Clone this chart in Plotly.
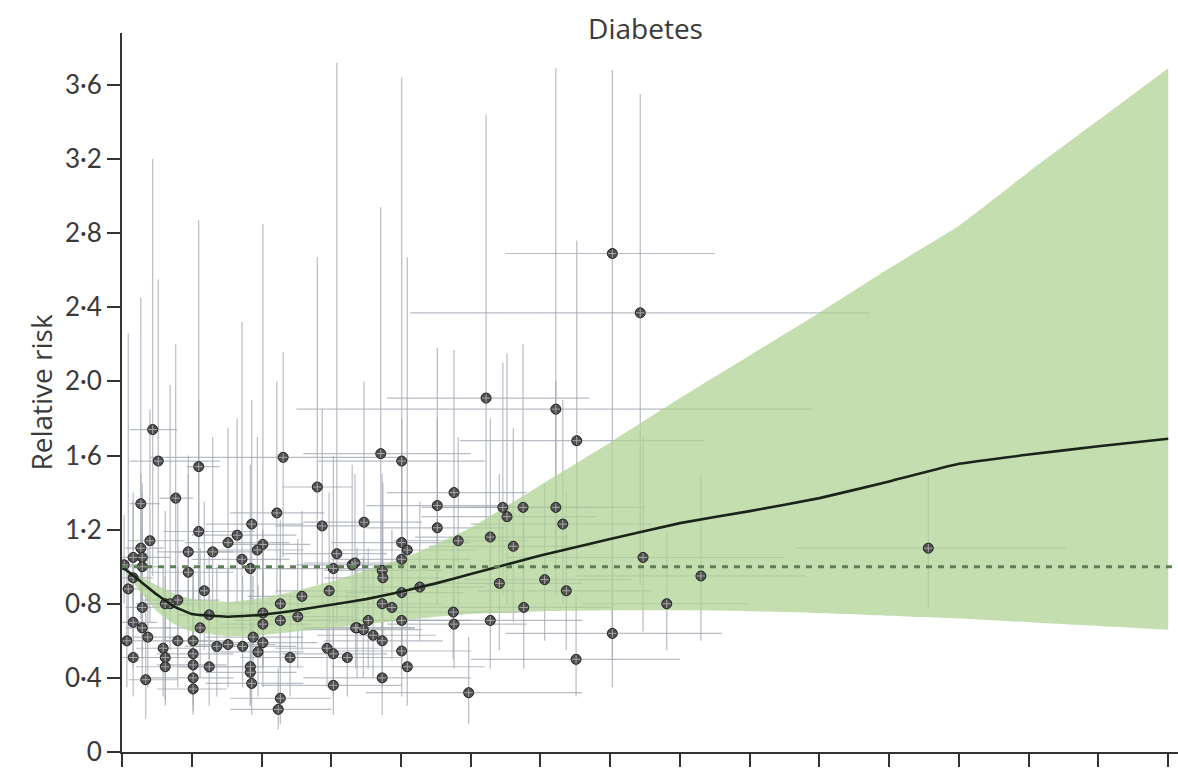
import plotly.graph_objects as go

# Individual study estimates: dose (drinks per day) with its range, relative risk with 95% CI
dose = [0.03, 0.44, 0.52, 0.27, 0.77, 1.10, 0.40, 1.10, 0.95, 1.30,
        0.27, 0.29, 0.16, 0.16, 0.29, 0.95, 1.18, 0.29, 0.62, 0.80,
        0.29, 0.37, 0.16, 0.16, 0.59, 0.62, 0.62, 0.34, 1.02, 1.02,
        1.02, 1.02, 1.02, 1.25, 0.80, 1.12, 1.52, 1.36, 1.52, 1.65,
        1.25, 0.07, 0.09, 0.69, 2.31, 2.80, 2.22, 2.87, 1.86, 2.02,
        1.94, 1.72, 3.08, 3.03, 3.30, 1.84, 2.97, 2.58, 2.27, 2.02,
        2.02, 2.27, 2.52, 3.37, 1.88, 2.02, 1.73, 1.95, 2.41, 2.94,
        3.03, 3.23, 1.84, 1.84, 1.86, 3.03, 2.27, 2.24, 3.71, 4.01,
        4.76, 4.52, 4.52, 3.47, 4.82, 4.01, 4.09, 4.01, 3.34, 3.73,
        3.74, 4.01, 4.27, 3.73, 3.87, 4.01, 4.75, 4.76, 3.53, 3.35,
        3.46, 3.60, 3.73, 4.01, 4.09, 3.73, 4.97, 5.22, 6.22, 6.52,
        7.03, 7.43, 5.46, 5.52, 5.75, 6.22, 6.32, 5.28, 5.61, 7.47,
        5.41, 6.06, 6.37, 5.76, 5.28, 7.81, 7.03, 6.51, 8.30, 11.56]

dose_lo = [0.00, 0.11, 0.11, 0.11, 0.54, 0.93, 0.10, 0.60, 0.50, 0.80,
           0.05, 0.05, 0.00, 0.00, 0.05, 0.40, 0.60, 0.05, 0.20, 0.30,
           0.05, 0.10, 0.00, 0.00, 0.20, 0.20, 0.20, 0.10, 0.60, 0.50,
           0.50, 0.40, 0.50, 0.80, 0.30, 0.60, 1.00, 0.90, 0.90, 1.00,
           0.80, 0.00, 0.00, 0.30, 0.40, 2.30, 1.55, 2.20, 1.20, 1.50,
           1.30, 1.00, 2.30, 2.20, 2.50, 1.20, 2.20, 1.80, 1.50, 1.40,
           1.40, 1.60, 1.80, 2.60, 1.20, 1.30, 1.00, 1.30, 1.70, 2.20,
           2.30, 2.50, 1.00, 1.20, 1.20, 2.00, 1.55, 1.55, 2.60, 2.80,
           3.80, 3.50, 3.50, 2.60, 3.90, 3.00, 3.10, 3.00, 2.60, 2.90,
           2.90, 3.20, 3.40, 2.90, 3.00, 3.10, 3.90, 3.80, 2.70, 2.60,
           2.60, 2.80, 2.90, 3.00, 3.00, 2.60, 3.50, 3.80, 2.50, 4.85,
           5.50, 4.13, 4.30, 4.30, 4.60, 5.00, 5.00, 4.20, 4.40, 5.50,
           4.30, 4.90, 5.10, 4.60, 4.00, 6.60, 5.50, 5.00, 6.50, 9.66]

dose_hi = [0.30, 0.79, 1.40, 0.54, 1.02, 1.40, 0.90, 1.90, 1.60, 2.00,
           0.60, 0.70, 0.40, 0.45, 0.60, 1.60, 1.90, 0.70, 1.10, 1.40,
           0.70, 0.80, 0.50, 0.50, 1.00, 1.10, 1.10, 0.80, 1.60, 1.60,
           1.50, 1.60, 1.50, 2.00, 1.30, 1.80, 2.20, 2.00, 2.40, 2.50,
           1.90, 0.40, 0.40, 1.00, 4.00, 3.30, 2.90, 3.50, 2.60, 2.70,
           2.60, 2.40, 3.80, 3.90, 4.10, 2.50, 3.70, 3.40, 3.00, 2.70,
           2.70, 3.00, 3.30, 4.20, 2.60, 2.80, 2.50, 2.60, 3.20, 3.70,
           3.80, 4.00, 2.60, 2.50, 2.60, 4.00, 3.00, 3.00, 5.00, 5.20,
           5.80, 5.60, 5.50, 4.30, 5.80, 5.00, 5.10, 5.00, 4.10, 4.60,
           4.60, 4.90, 5.20, 4.60, 4.80, 5.00, 5.70, 5.80, 4.40, 4.20,
           4.30, 4.50, 4.60, 5.00, 5.20, 5.00, 6.60, 6.70, 9.90, 8.35,
           8.50, 10.73, 6.70, 6.80, 7.00, 7.50, 7.60, 6.40, 6.80, 9.50,
           6.60, 7.30, 7.60, 7.00, 6.60, 9.00, 8.60, 8.00, 9.80, 13.54]

rr = [1.01, 1.74, 1.57, 1.34, 1.37, 1.54, 1.14, 1.19, 1.08, 1.08,
      1.10, 1.05, 1.05, 0.94, 1.00, 0.97, 0.87, 0.78, 0.80, 0.82,
      0.67, 0.62, 0.70, 0.51, 0.56, 0.51, 0.46, 0.39, 0.60, 0.53,
      0.47, 0.40, 0.34, 0.46, 0.60, 0.67, 0.58, 0.57, 1.13, 1.17,
      0.74, 0.60, 0.88, 0.80, 1.59, 1.43, 1.29, 1.22, 1.23, 1.12,
      1.09, 1.04, 1.07, 0.99, 1.01, 0.99, 0.87, 0.84, 0.80, 0.75,
      0.69, 0.71, 0.73, 0.67, 0.62, 0.59, 0.57, 0.54, 0.51, 0.56,
      0.53, 0.51, 0.46, 0.43, 0.37, 0.36, 0.29, 0.23, 1.61, 1.57,
      1.40, 1.33, 1.21, 1.24, 1.14, 1.13, 1.09, 1.04, 1.02, 0.98,
      0.94, 0.86, 0.89, 0.80, 0.78, 0.71, 0.755, 0.69, 0.71, 0.67,
      0.66, 0.63, 0.60, 0.545, 0.46, 0.40, 0.32, 1.91, 1.85, 1.68,
      2.69, 2.37, 1.32, 1.27, 1.32, 1.32, 1.23, 1.16, 1.11, 1.05,
      0.91, 0.93, 0.87, 0.78, 0.71, 0.80, 0.64, 0.50, 0.95, 1.10]

rr_lo = [0.80, 0.95, 0.78, 0.72, 0.85, 0.82, 0.70, 0.75, 0.70, 0.72,
         0.80, 0.75, 0.80, 0.65, 0.70, 0.60, 0.55, 0.50, 0.50, 0.50,
         0.40, 0.35, 0.45, 0.30, 0.30, 0.28, 0.25, 0.18, 0.35, 0.30,
         0.25, 0.22, 0.20, 0.25, 0.35, 0.40, 0.35, 0.30, 0.75, 0.80,
         0.50, 0.35, 0.60, 0.55, 1.05, 0.90, 0.85, 0.80, 0.80, 0.70,
         0.70, 0.65, 0.70, 0.65, 0.70, 0.60, 0.55, 0.55, 0.50, 0.45,
         0.45, 0.45, 0.45, 0.40, 0.40, 0.35, 0.35, 0.30, 0.30, 0.35,
         0.30, 0.30, 0.25, 0.25, 0.20, 0.20, 0.15, 0.12, 1.00, 0.85,
         0.90, 0.85, 0.80, 0.85, 0.75, 0.70, 0.70, 0.70, 0.70, 0.65,
         0.60, 0.55, 0.60, 0.50, 0.50, 0.45, 0.50, 0.45, 0.45, 0.45,
         0.40, 0.40, 0.35, 0.30, 0.25, 0.20, 0.15, 1.20, 1.05, 1.00,
         0.50, 0.90, 0.85, 0.80, 0.80, 0.85, 0.80, 0.75, 0.70, 0.65,
         0.55, 0.60, 0.55, 0.45, 0.45, 0.55, 0.35, 0.30, 0.60, 0.77]

rr_hi = [1.28, 3.20, 2.55, 2.45, 2.20, 2.87, 1.85, 1.90, 1.60, 1.70,
         1.50, 1.45, 1.40, 1.35, 1.40, 1.50, 1.35, 1.20, 1.30, 1.40,
         1.10, 1.10, 1.05, 0.90, 1.00, 0.95, 0.85, 0.85, 1.00, 0.95,
         0.90, 0.80, 0.60, 0.85, 1.00, 1.10, 1.00, 1.00, 1.75, 1.80,
         1.10, 1.00, 2.26, 1.98, 2.16, 2.67, 2.00, 1.85, 1.90, 2.85,
         1.70, 2.32, 3.72, 1.60, 1.55, 1.55, 1.40, 1.30, 1.25, 1.20,
         1.10, 1.10, 1.15, 1.10, 0.95, 0.95, 0.95, 0.90, 0.85, 0.90,
         0.90, 0.85, 0.85, 0.80, 0.70, 0.65, 0.56, 0.45, 2.94, 3.64,
         2.17, 2.18, 1.80, 2.00, 1.70, 1.80, 2.67, 1.60, 1.50, 1.50,
         1.45, 1.35, 1.35, 1.25, 1.20, 1.10, 1.15, 1.05, 1.10, 1.00,
         1.05, 1.00, 0.95, 0.95, 0.85, 0.80, 0.62, 3.44, 3.69, 2.76,
         3.68, 3.55, 2.10, 2.15, 2.20, 2.00, 1.90, 1.80, 1.75, 1.70,
         1.50, 1.45, 1.40, 1.30, 1.10, 1.20, 1.20, 0.85, 1.50, 1.49]

# Pooled dose-response curve with its uncertainty interval
grid = [0, 0.25, 0.5, 0.75, 1, 1.5, 2, 2.5, 3, 3.5, 4, 4.5, 5,
        6, 7, 8, 9, 10, 11, 12, 13, 14, 15]
curve = [1.0, 0.925, 0.85, 0.785, 0.745, 0.73, 0.74, 0.765, 0.795, 0.825, 0.865, 0.91, 0.96,
         1.06, 1.15, 1.235, 1.30, 1.37, 1.46, 1.555, 1.605, 1.65, 1.69]
upper = [1.0, 0.95, 0.90, 0.855, 0.825, 0.81, 0.83, 0.87, 0.92, 0.98, 1.04, 1.12, 1.21,
         1.44, 1.67, 1.91, 2.14, 2.37, 2.61, 2.84, 3.13, 3.41, 3.69]
lower = [1.0, 0.87, 0.76, 0.69, 0.65, 0.625, 0.63, 0.65, 0.67, 0.69, 0.71, 0.73, 0.745,
         0.76, 0.765, 0.765, 0.76, 0.75, 0.735, 0.72, 0.70, 0.68, 0.66]

x_ticks = list(range(0, 16))
y_ticks = [0, 0.4, 0.8, 1.2, 1.6, 2.0, 2.4, 2.8, 3.2, 3.6]
y_tick_text = ["0", "0·4", "0·8", "1·2", "1·6", "2·0", "2·4", "2·8", "3·2", "3·6"]

title_text = "Diabetes"
y_title = "Relative risk"

bar_color = "rgba(165,170,180,0.8)"

fig = go.Figure()

# Confidence interval whiskers of each study (drawn first, beneath the band)
fig.add_trace(go.Scatter(
    x=dose, y=rr, mode="markers",
    marker=dict(size=2, opacity=0),
    error_x=dict(type="data", symmetric=False,
                 array=[h - d for h, d in zip(dose_hi, dose)],
                 arrayminus=[d - l for d, l in zip(dose, dose_lo)],
                 color=bar_color, thickness=1.2, width=0),
    error_y=dict(type="data", symmetric=False,
                 array=[h - r for h, r in zip(rr_hi, rr)],
                 arrayminus=[r - l for r, l in zip(rr, rr_lo)],
                 color=bar_color, thickness=1.2, width=0),
    hoverinfo="skip", showlegend=False,
))

# Uncertainty band
fig.add_trace(go.Scatter(
    x=grid, y=lower, mode="lines", line=dict(width=0, shape="spline", smoothing=0.3),
    hoverinfo="skip", showlegend=False,
))
fig.add_trace(go.Scatter(
    x=grid, y=upper, mode="lines", line=dict(width=0, shape="spline", smoothing=0.3),
    fill="tonexty", fillcolor="rgba(176,211,148,0.74)",
    hoverinfo="skip", showlegend=False,
))

# Reference line at relative risk of 1
fig.add_shape(type="line", xref="paper", x0=0, x1=1, yref="y", y0=1, y1=1,
              line=dict(color="#5f7e58", width=3, dash="6px,6px"), layer="above")

# Study point markers with a light cross inside
fig.add_trace(go.Scatter(
    x=dose, y=rr, mode="markers",
    marker=dict(symbol="circle", size=10, color="#4e4e4e",
                line=dict(color="#242424", width=1)),
    showlegend=False,
))
fig.add_trace(go.Scatter(
    x=dose, y=rr, mode="markers",
    marker=dict(symbol="cross-thin", size=6, line=dict(color="#a8a8a8", width=1)),
    hoverinfo="skip", showlegend=False,
))

# Pooled curve
fig.add_trace(go.Scatter(
    x=grid, y=curve, mode="lines",
    line=dict(color="#1a2418", width=2.6, shape="spline", smoothing=0.3),
    showlegend=False,
))

tick_font = dict(family="Lato, sans-serif", size=26, color="#3a3a3a")
label_font_family = "Open Sans, sans-serif"

fig.update_layout(
    width=1178, height=774,
    margin=dict(l=122, r=0, t=33, b=22),
    paper_bgcolor="white", plot_bgcolor="white",
    title=dict(text=title_text, x=0.548, xanchor="center", y=0.962, yanchor="middle",
               font=dict(family=label_font_family, size=28, color="#3a3a3a")),
    xaxis=dict(range=[0, 15.14], tickvals=x_ticks, showticklabels=False,
               ticks="outside", ticklen=13, tickwidth=2, tickcolor="#333",
               showline=True, linecolor="#333", linewidth=2,
               showgrid=False, zeroline=False, fixedrange=True),
    yaxis=dict(range=[0, 3.88], tickvals=y_ticks, ticktext=y_tick_text,
               ticks="outside", ticklen=13, tickwidth=2, tickcolor="#333",
               showline=True, linecolor="#333", linewidth=2,
               showgrid=False, zeroline=False, tickfont=tick_font,
               title=dict(text=y_title, standoff=4,
                          font=dict(family=label_font_family, size=28, color="#3a3a3a"))),
)

fig.write_html("out.html")
